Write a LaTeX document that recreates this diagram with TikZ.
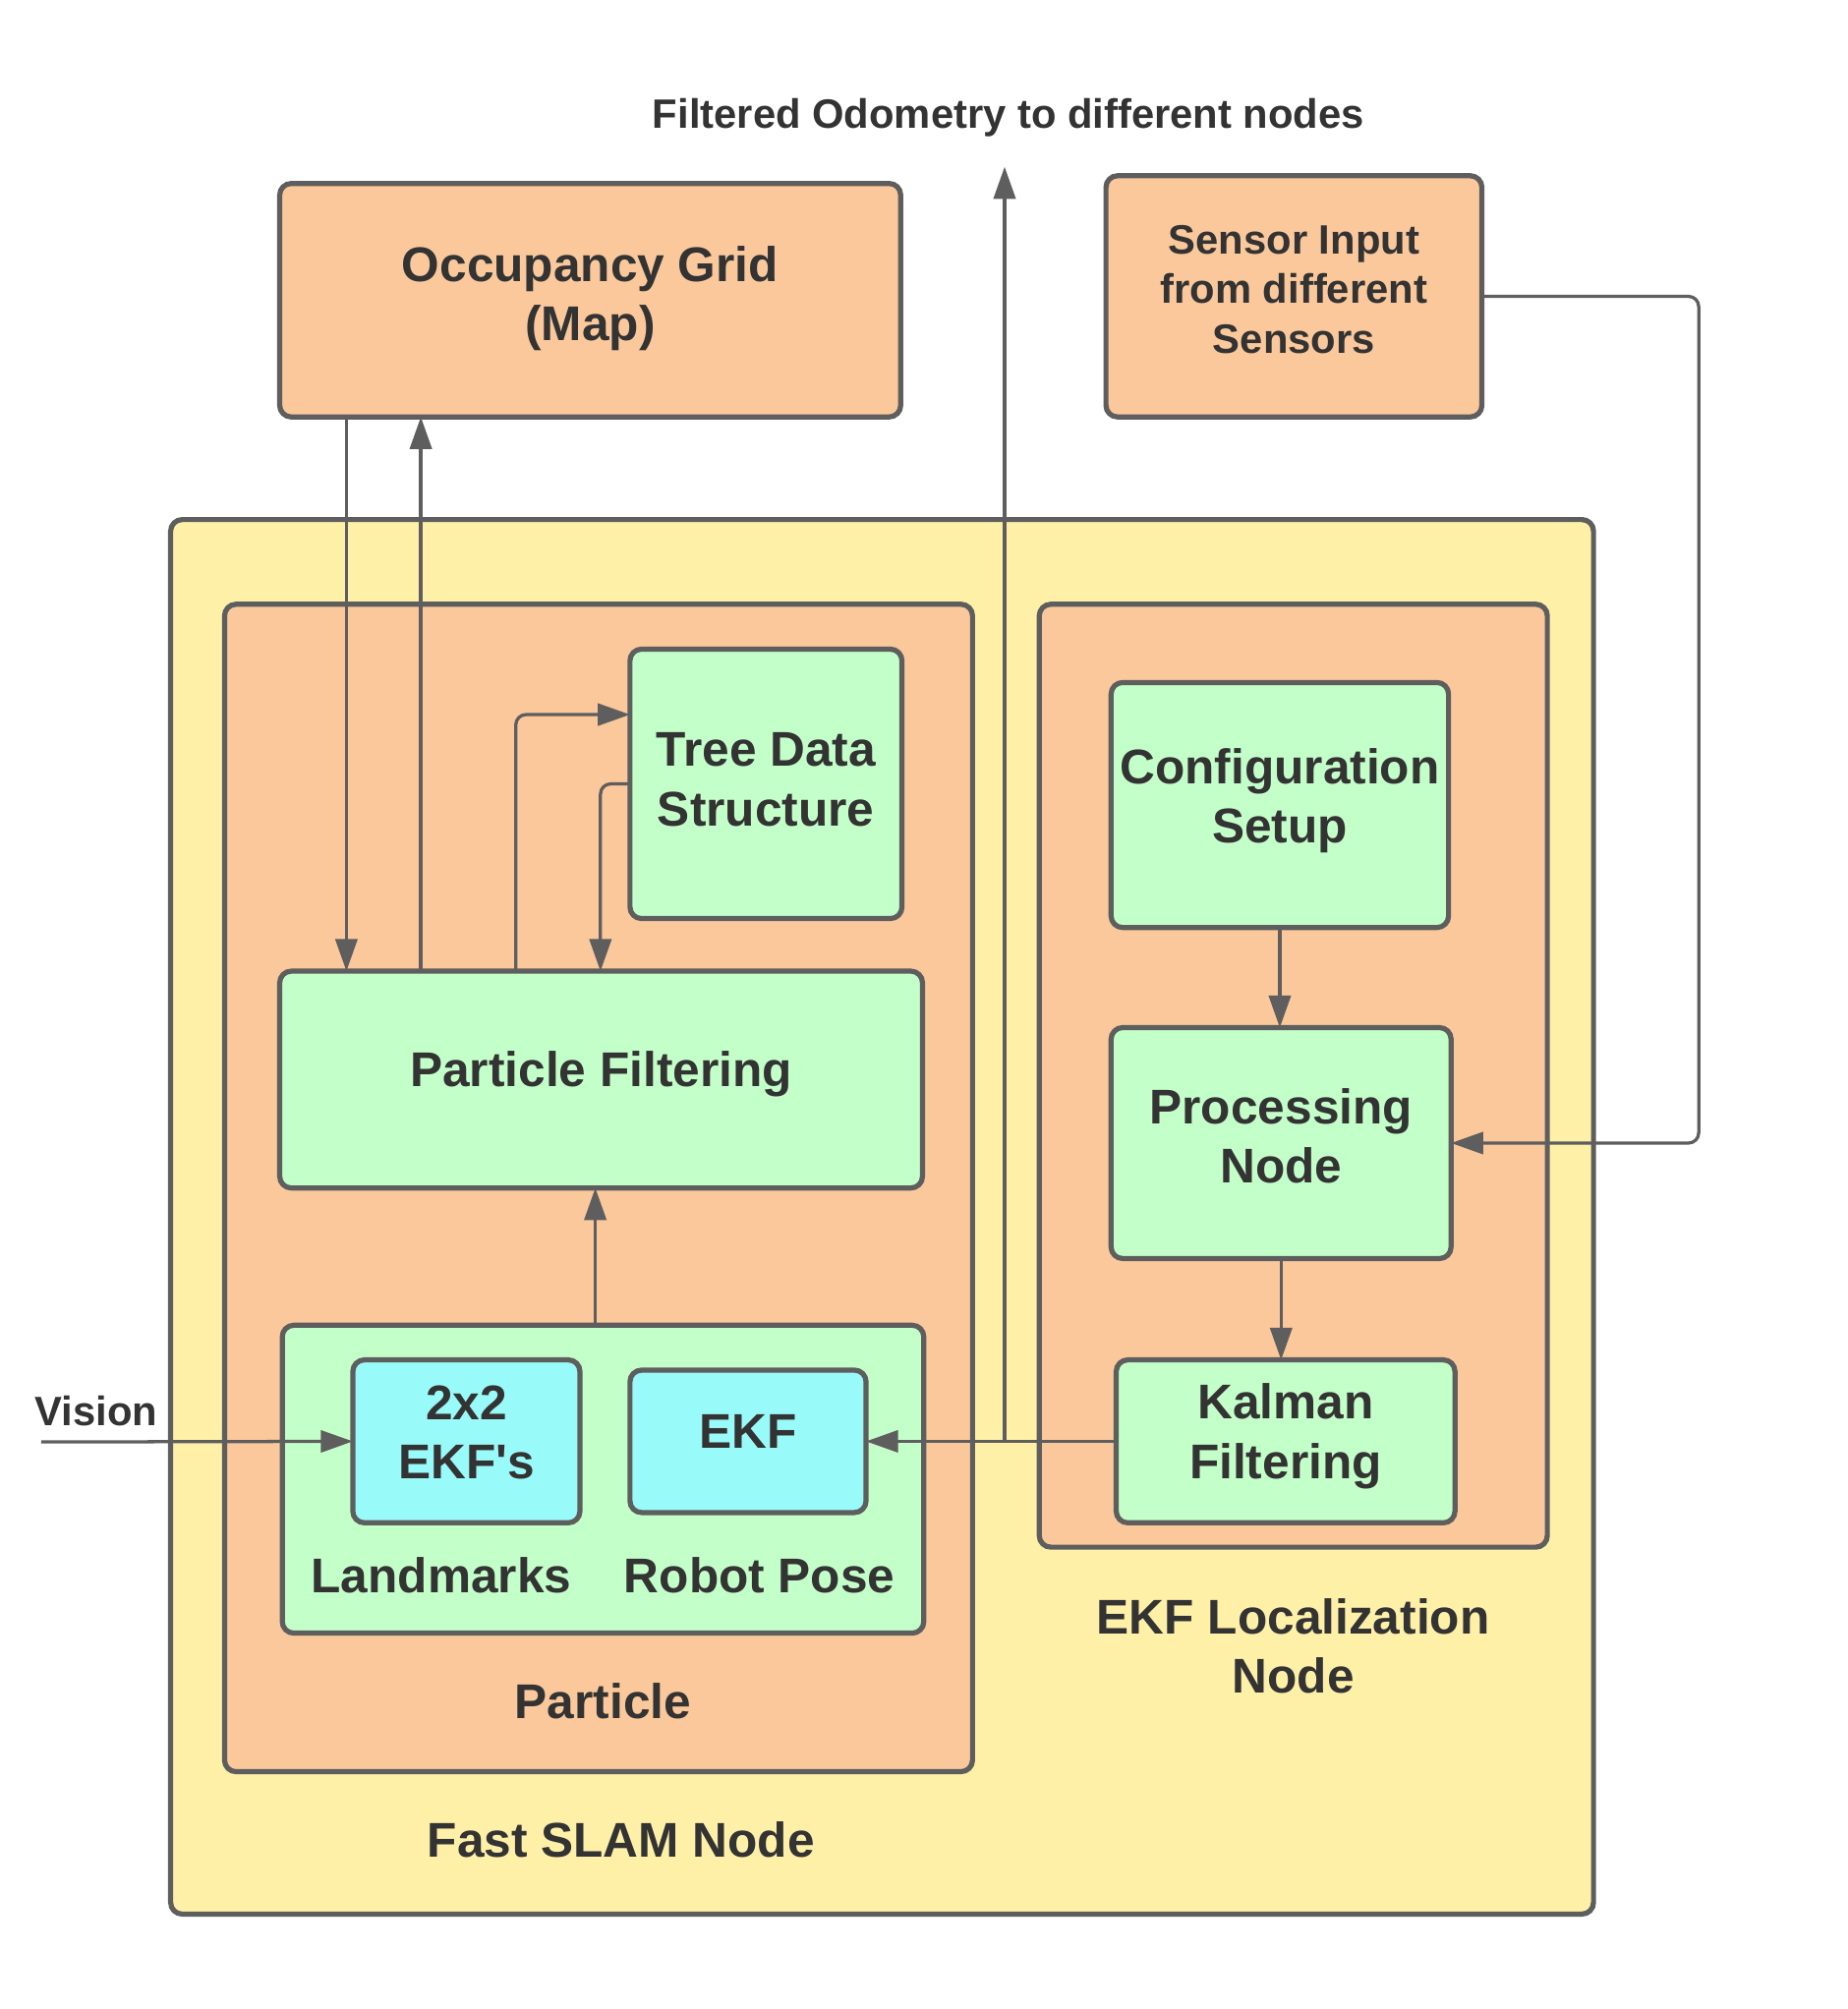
\documentclass[tikz,border=0pt]{standalone}
\usepackage{fontspec}
\setmainfont{Liberation Sans}[Ligatures=TeXOff]
\usetikzlibrary{arrows.meta,calc}
\definecolor{peach}{RGB}{250,200,155}
\definecolor{yell}{RGB}{255,240,168}
\definecolor{grn}{RGB}{195,255,200}
\definecolor{cyn}{RGB}{153,250,250}
\definecolor{bord}{RGB}{94,94,94}
\definecolor{txt}{RGB}{51,51,51}
\newcommand{\bigfont}{\fontsize{38}{46}\selectfont\bfseries}
\newcommand{\smallfont}{\fontsize{32}{38.5}\selectfont\bfseries}
\begin{document}
\begin{tikzpicture}[x=1pt,y=-1pt,
  box/.style={draw=bord, line width=4pt, rounded corners=9pt, outer sep=0pt, inner sep=0pt, align=center, text=txt, font=\bigfont, text depth=17pt},
  lbl/.style={inner sep=0pt, align=center, text=txt, font=\bigfont},
  conn/.style={draw=bord, line width=2.5pt, rounded corners=8pt, -{Triangle[length=25pt,width=17pt]}}]
\useasboundingbox (0,0) rectangle (1440,1566);
% containers
\node[box, fill=yell, minimum width=1109pt, minimum height=1087pt] (slam) at (687.5,948.5) {};
\node[box, fill=peach, minimum width=583pt, minimum height=910pt] (part) at (466.5,926) {};
\node[box, fill=peach, minimum width=396pt, minimum height=735pt] (loc) at (1008,838.5) {};
% top boxes
\node[box, fill=peach, minimum width=484pt, minimum height=182pt, text depth=11pt] (occ) at (460,234) {Occupancy Grid\\(Map)};
\node[box, fill=peach, minimum width=293pt, minimum height=188pt, font=\smallfont, text depth=11pt] (sensor) at (1008.5,231) {Sensor Input\\from different\\Sensors};
% inner boxes
\node[box, fill=grn, minimum width=212pt, minimum height=210pt, text depth=7pt] (tree) at (597,611) {Tree Data\\Structure};
\node[box, fill=grn, minimum width=501pt, minimum height=169pt, text depth=17pt] (pf) at (468.5,841.5) {Particle Filtering};
\node[box, fill=grn, minimum width=500pt, minimum height=240pt] (landc) at (470,1153) {};
\node[box, fill=cyn, minimum width=177pt, minimum height=127pt, text depth=14pt] (ekf2) at (363.5,1123.5) {2x2\\EKF's};
\node[box, fill=cyn, minimum width=184pt, minimum height=111pt, text depth=15pt] (ekf) at (583,1123.5) {EKF};
\node[box, fill=grn, minimum width=263pt, minimum height=191pt, text depth=14pt] (config) at (997.5,627.5) {Configuration\\Setup};
\node[box, fill=grn, minimum width=265pt, minimum height=180pt, text depth=11pt] (proc) at (998.5,891) {Processing\\Node};
\node[box, fill=grn, minimum width=264pt, minimum height=127pt, text depth=16pt] (kal) at (1002,1123.5) {Kalman\\Filtering};
% labels
\node[lbl, font=\smallfont] (odolbl) at (786,92) {Filtered Odometry to different nodes};
\node[lbl, font=\smallfont] (vislbl) at (75,1100) {Vision};
\node[lbl] (lmlbl) at (344,1228) {Landmarks};
\node[lbl] (rplbl) at (592,1228) {Robot Pose};
\node[lbl] (partlbl) at (470,1326) {Particle};
\node[lbl] (slamlbl) at (484,1434) {Fast SLAM Node};
\node[lbl] (loclbl) at (1008,1283) {EKF Localization\\Node};
% coordinates
\coordinate (o1) at (270,325);
\coordinate (o2) at (328,325);
\coordinate (t1) at (402,757);
\coordinate (t2) at (468,611);
\coordinate (l1) at (464,1033);
\coordinate (vs) at (32,1124);
\coordinate (od1) at (783,1124);
\coordinate (odtop) at (783,130);
% connectors
\draw[conn] (o1) -- (o1 |- pf.north);
\draw[conn] (o2 |- pf.north) -- (o2);
\draw[conn] (t1) |- (tree.west |- 0,557);
\draw[conn] (tree.west) -| (t2 |- pf.north);
\draw[conn] (l1) -- (l1 |- pf.south);
\draw[conn] (vs) -- (ekf2.west);
\draw[conn] (kal.west) -- (ekf.east);
\draw[conn] (od1) -- (odtop);
\draw[conn] (config.south) -- (config.south |- proc.north);
\draw[conn] (proc.south) -- (proc.south |- kal.north);
\draw[conn] (sensor.east) -- ++(169,0) |- (proc.east);
\end{tikzpicture}
\end{document}
